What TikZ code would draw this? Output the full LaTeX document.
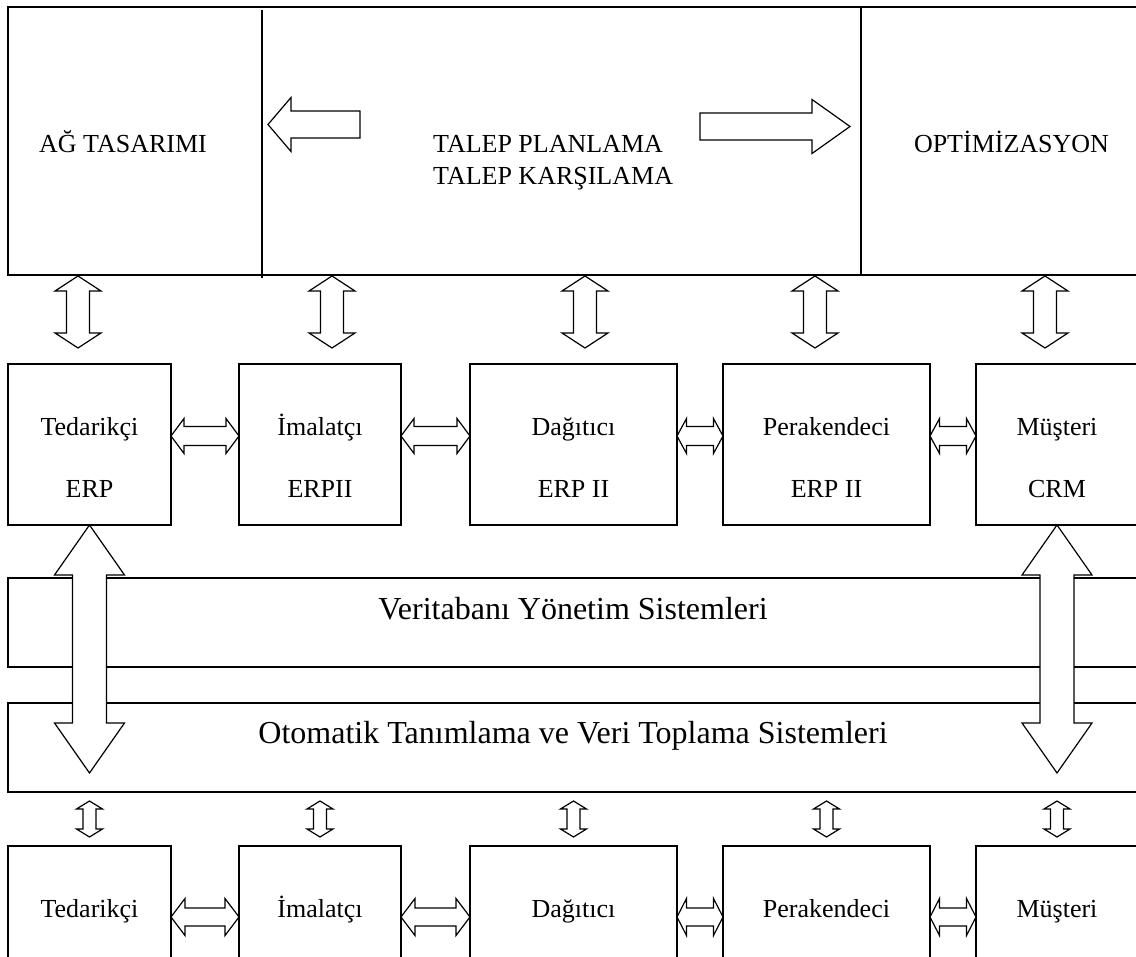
\documentclass[tikz,border=0pt]{standalone}
\usepackage{fontspec}
\setmainfont{Liberation Serif}
\usetikzlibrary{calc}

\tikzset{
  frameline/.style={draw, line width=1.8pt, inner sep=0pt, outer sep=0pt, fill=white},
  boxline/.style={draw, line width=1.5pt, inner sep=0pt, outer sep=0pt, fill=white},
  divider/.style={line width=1.5pt},
  blockarrow/.style={draw, line width=1.2pt, fill=white, line join=miter},
  txt/.style={font=\fontsize{26pt}{30pt}\selectfont, inner sep=0pt, anchor=base},
  bandtxt/.style={font=\fontsize{32pt}{36pt}\selectfont, inner sep=0pt, anchor=base},
}

% hollow double-headed block arrow between two points:
% #1 end A, #2 end B, #3 head length, #4 head half-width, #5 shaft half-width
\newcommand\dblblock[5]{%
  \path #1 coordinate (da) #2 coordinate (db);
  \coordinate (ha) at ($(da)!#3!(db)$);
  \coordinate (hb) at ($(db)!#3!(da)$);
  \draw[blockarrow] (da) -- ($(ha)!#4!90:(db)$) -- ($(ha)!#5!90:(db)$)
    -- ($(hb)!#5!-90:(da)$) -- ($(hb)!#4!-90:(da)$) -- (db)
    -- ($(hb)!#4!90:(da)$) -- ($(hb)!#5!90:(da)$)
    -- ($(ha)!#5!-90:(db)$) -- ($(ha)!#4!-90:(db)$) -- cycle;
}

% hollow single-headed block arrow: #1 tail, #2 tip, #3 head length,
% #4 head half-width, #5 shaft half-width
\newcommand\oneblock[5]{%
  \path #1 coordinate (sa) #2 coordinate (sb);
  \coordinate (hs) at ($(sb)!#3!(sa)$);
  \draw[blockarrow] (sb) -- ($(hs)!#4!90:(sa)$) -- ($(hs)!#5!90:(sa)$)
    -- ($(sa)!#5!-90:(sb)$) -- ($(sa)!#5!90:(sb)$)
    -- ($(hs)!#5!-90:(sa)$) -- ($(hs)!#4!-90:(sa)$) -- cycle;
}

\begin{document}
\begin{tikzpicture}[x=1pt,y=-1pt]
\clip (0,0) rectangle (1136,957);
\fill[white] (0,0) rectangle (1136,957);

% ---- planning frame ----
\node[frameline, minimum width=1140, minimum height=268, anchor=north west] (plan) at (8,7) {};
\draw[divider] ($(plan.north west)+(254,3)$) -- ($(plan.south west)+(254,3)$);
\draw[divider] ($(plan.north west)+(853,0)$) -- ($(plan.south west)+(853,0)$);

\coordinate (lefttail) at (360,124.5);
\coordinate (lefttip)  at (268,124.5);
\coordinate (righttail) at (700,126.5);
\coordinate (righttip)  at (850,126.5);
\oneblock{(lefttail)}{(lefttip)}{23pt}{27pt}{13.5pt}
\oneblock{(righttail)}{(righttip)}{38pt}{27pt}{13.5pt}

% ---- middle row (systems) ----
\node[boxline, minimum width=163, minimum height=161, anchor=north west] (m1) at (8,364) {};
\node[boxline, minimum width=162, minimum height=161, anchor=north west] (m2) at (239,364) {};
\node[boxline, minimum width=207, minimum height=161, anchor=north west] (m3) at (470,364) {};
\node[boxline, minimum width=207, minimum height=161, anchor=north west] (m4) at (723,364) {};
\node[boxline, minimum width=162, minimum height=161, anchor=north west] (m5) at (976,364) {};

% ---- data bands ----
\node[frameline, minimum width=1140, minimum height=89, anchor=north west] (dbms) at (8,578) {};
\node[frameline, minimum width=1140, minimum height=89, anchor=north west] (aidc) at (8,703) {};

% ---- bottom row (partners) ----
\node[boxline, minimum width=163, minimum height=130, anchor=north west] (b1) at (8,846) {};
\node[boxline, minimum width=162, minimum height=130, anchor=north west] (b2) at (239,846) {};
\node[boxline, minimum width=207, minimum height=130, anchor=north west] (b3) at (470,846) {};
\node[boxline, minimum width=207, minimum height=130, anchor=north west] (b4) at (723,846) {};
\node[boxline, minimum width=162, minimum height=130, anchor=north west] (b5) at (976,846) {};

% ---- frame <-> middle row ----
\dblblock{($(m1.north)+(-11.5,-88)$)}{($(m1.north)+(-11.5,-16)$)}{15pt}{23pt}{11.5pt}
\dblblock{($(m2.north)+(12,-88)$)}{($(m2.north)+(12,-16)$)}{15pt}{23pt}{11.5pt}
\dblblock{($(m3.north)+(11.5,-88)$)}{($(m3.north)+(11.5,-16)$)}{15pt}{23pt}{11.5pt}
\dblblock{($(m4.north)+(-11.5,-88)$)}{($(m4.north)+(-11.5,-16)$)}{15pt}{23pt}{11.5pt}
\dblblock{($(m5.north)+(-12,-88)$)}{($(m5.north)+(-12,-16)$)}{15pt}{23pt}{11.5pt}

% ---- middle row links ----
\dblblock{($(m1.east)+(0,-8.5)$)}{($(m2.west)+(0,-8.5)$)}{13pt}{17.5pt}{9.5pt}
\dblblock{($(m2.east)+(0,-8.5)$)}{($(m3.west)+(0,-8.5)$)}{13pt}{17.5pt}{9.5pt}
\dblblock{($(m3.east)+(0,-8.5)$)}{($(m4.west)+(0,-8.5)$)}{9.5pt}{17.5pt}{9.5pt}
\dblblock{($(m4.east)+(0,-8.5)$)}{($(m5.west)+(0,-8.5)$)}{9.5pt}{17.5pt}{9.5pt}

% ---- long links through the bands ----
\dblblock{(m1.south)}{($(m1.south)+(0,248)$)}{50pt}{35pt}{17pt}
\dblblock{(m5.south)}{($(m5.south)+(0,248)$)}{50pt}{35pt}{17pt}

% ---- bands <-> bottom row ----
\dblblock{($(b1.north)+(0,-45)$)}{($(b1.north)+(0,-9)$)}{8pt}{13pt}{6.5pt}
\dblblock{($(b2.north)+(0,-45)$)}{($(b2.north)+(0,-9)$)}{8pt}{13pt}{6.5pt}
\dblblock{($(b3.north)+(0,-45)$)}{($(b3.north)+(0,-9)$)}{8pt}{13pt}{6.5pt}
\dblblock{($(b4.north)+(0,-45)$)}{($(b4.north)+(0,-9)$)}{8pt}{13pt}{6.5pt}
\dblblock{($(b5.north)+(0,-45)$)}{($(b5.north)+(0,-9)$)}{8pt}{13pt}{6.5pt}

% ---- bottom row links ----
\dblblock{($(b1.east)+(0,6)$)}{($(b2.west)+(0,6)$)}{14pt}{18.5pt}{9pt}
\dblblock{($(b2.east)+(0,6)$)}{($(b3.west)+(0,6)$)}{14pt}{18.5pt}{9pt}
\dblblock{($(b3.east)+(0,6)$)}{($(b4.west)+(0,6)$)}{9.5pt}{18.5pt}{9pt}
\dblblock{($(b4.east)+(0,6)$)}{($(b5.west)+(0,6)$)}{9.5pt}{18.5pt}{9pt}

% ---- texts ----
\node[txt] (agt) at (123,153) {AĞ TASARIMI};
\node[txt, anchor=base west] (tp) at (433,153) {TALEP PLANLAMA};
\node[txt, anchor=base west] (tk) at (433,185) {TALEP KARŞILAMA};
\node[txt] (opt) at (1011.5,153) {OPTİMİZASYON};

\node[txt] at ($(m1.north)+(0,72)$) {Tedarikçi};
\node[txt] at ($(m1.north)+(0,134)$) {ERP};
\node[txt] at ($(m2.north)+(0,72)$) {İmalatçı};
\node[txt] at ($(m2.north)+(0,134)$) {ERPII};
\node[txt] at ($(m3.north)+(0,72)$) {Dağıtıcı};
\node[txt] at ($(m3.north)+(0,134)$) {ERP II};
\node[txt] at ($(m4.north)+(0,72)$) {Perakendeci};
\node[txt] at ($(m4.north)+(0,134)$) {ERP II};
\node[txt] at ($(m5.north)+(0,72)$) {Müşteri};
\node[txt] at ($(m5.north)+(0,134)$) {CRM};

\node[bandtxt] at (573,619) {Veritabanı Yönetim Sistemleri};
\node[bandtxt] at (573,743) {Otomatik Tanımlama ve Veri Toplama Sistemleri};

\node[txt] at ($(b1.north)+(0,71)$) {Tedarikçi};
\node[txt] at ($(b2.north)+(0,71)$) {İmalatçı};
\node[txt] at ($(b3.north)+(0,71)$) {Dağıtıcı};
\node[txt] at ($(b4.north)+(0,71)$) {Perakendeci};
\node[txt] at ($(b5.north)+(0,71)$) {Müşteri};
\end{tikzpicture}
\end{document}
